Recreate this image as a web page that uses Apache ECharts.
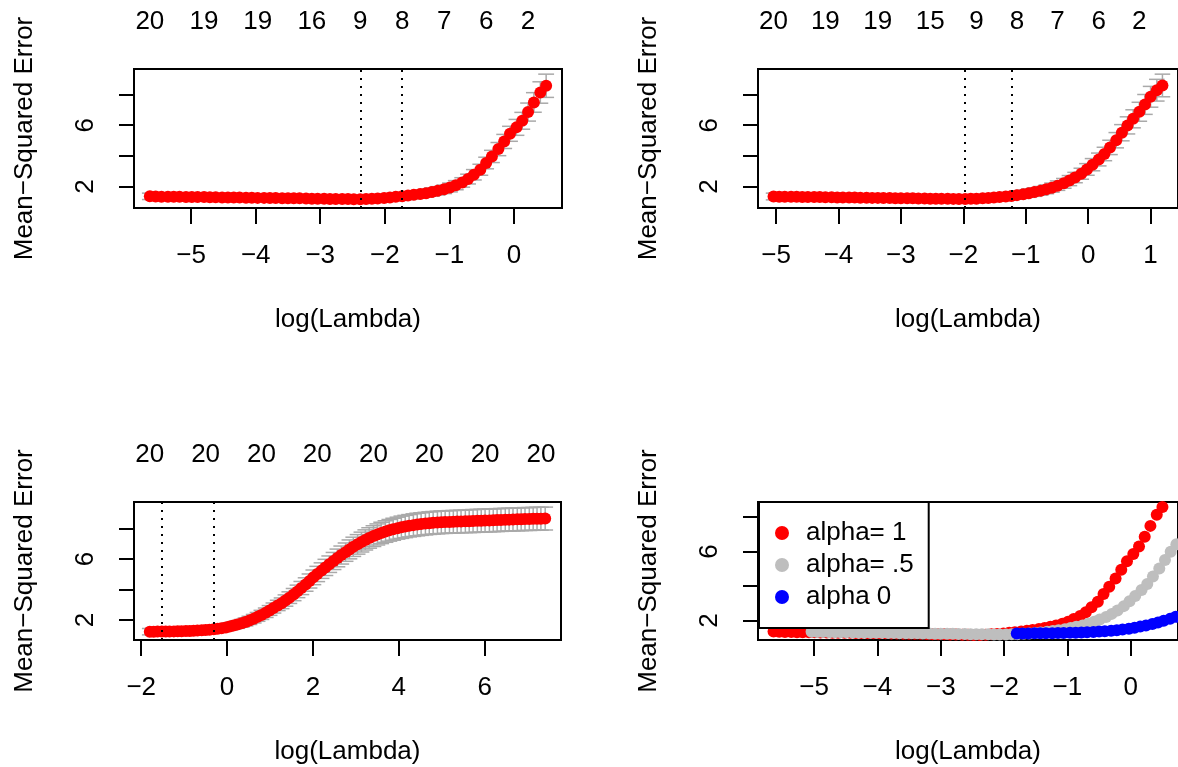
<!DOCTYPE html>
<html><head><meta charset="utf-8">
<script src="https://cdn.jsdelivr.net/npm/echarts@6/dist/echarts.min.js"></script>
<style>html,body{margin:0;padding:0;background:#fff}#c{width:1178px;height:767px}</style>
</head><body><div id="c"></div>
<script>
// ---- data: alpha = 1 (lasso) ----
const x1 = [-5.64,-5.55,-5.46,-5.36,-5.27,-5.18,-5.08,-4.99,-4.90,-4.80,
 -4.71,-4.62,-4.52,-4.43,-4.34,-4.25,-4.15,-4.06,-3.97,-3.87,
 -3.78,-3.69,-3.59,-3.50,-3.41,-3.32,-3.22,-3.13,-3.04,-2.94,
 -2.85,-2.76,-2.66,-2.57,-2.48,-2.38,-2.29,-2.20,-2.11,-2.01,
 -1.92,-1.83,-1.73,-1.64,-1.55,-1.45,-1.36,-1.27,-1.18,-1.08,
 -0.99,-0.90,-0.80,-0.71,-0.62,-0.52,-0.43,-0.34,-0.24,-0.15,
 -0.06,0.04,0.13,0.22,0.31,0.41,0.50];
const cvm1 = [1.35,1.34,1.33,1.33,1.32,1.32,1.31,1.31,1.30,1.30,
 1.29,1.29,1.28,1.28,1.27,1.27,1.26,1.26,1.25,1.25,
 1.24,1.24,1.23,1.23,1.22,1.22,1.21,1.20,1.20,1.19,
 1.18,1.18,1.17,1.17,1.16,1.16,1.17,1.19,1.21,1.24,
 1.28,1.32,1.36,1.40,1.45,1.50,1.56,1.63,1.71,1.81,
 1.93,2.08,2.26,2.48,2.76,3.09,3.53,3.96,4.44,4.94,
 5.44,5.86,6.29,6.86,7.49,8.14,8.58];
const cvsd1 = [0.21,0.21,0.21,0.21,0.21,0.21,0.21,0.21,0.21,0.21,
 0.21,0.21,0.21,0.21,0.21,0.21,0.21,0.21,0.21,0.21,
 0.22,0.22,0.22,0.22,0.22,0.22,0.22,0.22,0.22,0.22,
 0.22,0.22,0.23,0.23,0.235,0.235,0.235,0.235,0.24,0.24,
 0.245,0.25,0.25,0.255,0.26,0.26,0.265,0.27,0.275,0.28,
 0.29,0.30,0.31,0.32,0.34,0.36,0.38,0.40,0.43,0.46,
 0.49,0.52,0.55,0.59,0.64,0.70,0.76];
const top1X = [-5.64,-4.80,-3.97,-3.13,-2.38,-1.73,-1.08,-0.43,0.22];
const top1Lab = ['20','19','19','16','9','8','7','6','2'];
const vline1 = [-2.38,-1.73];

// ---- data: alpha = 0.5 ----
const x2 = [-5.04,-4.95,-4.86,-4.76,-4.67,-4.58,-4.49,-4.39,-4.30,-4.21,
 -4.11,-4.02,-3.93,-3.83,-3.74,-3.65,-3.55,-3.46,-3.37,-3.28,
 -3.18,-3.09,-3.00,-2.90,-2.81,-2.72,-2.62,-2.53,-2.44,-2.35,
 -2.25,-2.16,-2.07,-1.97,-1.88,-1.79,-1.69,-1.60,-1.51,-1.42,
 -1.32,-1.23,-1.14,-1.04,-0.95,-0.86,-0.76,-0.67,-0.58,-0.49,
 -0.39,-0.30,-0.21,-0.11,-0.02,0.07,0.17,0.26,0.35,0.45,
 0.54,0.63,0.72,0.82,0.91,1.00,1.10,1.19];
const cvm2 = [1.34,1.33,1.33,1.32,1.32,1.31,1.31,1.30,1.30,1.29,
 1.29,1.28,1.28,1.27,1.27,1.26,1.26,1.25,1.25,1.24,
 1.24,1.23,1.23,1.22,1.22,1.21,1.21,1.20,1.20,1.19,
 1.19,1.185,1.18,1.18,1.19,1.20,1.22,1.24,1.27,1.30,
 1.34,1.38,1.43,1.49,1.56,1.63,1.71,1.81,1.92,2.05,
 2.20,2.38,2.58,2.83,3.11,3.42,3.76,4.12,4.55,5.02,
 5.51,5.99,6.42,6.88,7.36,7.86,8.29,8.60];
const cvsd2 = [0.22,0.22,0.22,0.22,0.22,0.22,0.22,0.22,0.22,0.22,
 0.22,0.22,0.22,0.22,0.22,0.22,0.22,0.22,0.22,0.22,
 0.23,0.23,0.23,0.23,0.23,0.23,0.23,0.23,0.23,0.23,
 0.24,0.25,0.255,0.255,0.25,0.25,0.25,0.25,0.25,0.255,
 0.26,0.26,0.265,0.27,0.275,0.28,0.285,0.29,0.30,0.31,
 0.32,0.33,0.34,0.36,0.38,0.40,0.42,0.44,0.47,0.50,
 0.53,0.56,0.59,0.62,0.65,0.68,0.71,0.74];
const top2X = [-5.04,-4.21,-3.37,-2.53,-1.79,-1.14,-0.49,0.17,0.82];
const top2Lab = ['20','19','19','15','9','8','7','6','2'];
const vline2 = [-1.97,-1.23];

// ---- data: alpha = 0 (ridge) ----
const x3 = [-1.80,-1.71,-1.62,-1.52,-1.43,-1.34,-1.24,-1.15,-1.06,-0.96,
 -0.87,-0.78,-0.69,-0.59,-0.50,-0.41,-0.31,-0.22,-0.13,-0.03,
 0.06,0.15,0.24,0.34,0.43,0.52,0.62,0.71,0.80,0.90,
 0.99,1.08,1.18,1.27,1.36,1.45,1.55,1.64,1.73,1.83,
 1.92,2.01,2.10,2.20,2.29,2.38,2.48,2.57,2.66,2.76,
 2.85,2.94,3.04,3.13,3.22,3.31,3.41,3.50,3.59,3.69,
 3.78,3.87,3.97,4.06,4.15,4.24,4.34,4.43,4.52,4.62,
 4.71,4.80,4.90,4.99,5.08,5.18,5.27,5.36,5.45,5.55,
 5.64,5.73,5.83,5.92,6.01,6.11,6.20,6.29,6.38,6.48,
 6.57,6.66,6.76,6.85,6.94,7.04,7.13,7.22,7.31,7.41];
const cvm3 = [1.24,1.24,1.245,1.25,1.25,1.255,1.26,1.265,1.27,1.28,
 1.29,1.30,1.31,1.33,1.35,1.37,1.40,1.43,1.47,1.52,
 1.58,1.64,1.71,1.79,1.88,1.98,2.09,2.21,2.34,2.48,
 2.63,2.79,2.96,3.10,3.28,3.47,3.67,3.88,4.10,4.33,
 4.56,4.80,5.02,5.24,5.45,5.66,5.87,6.07,6.26,6.45,
 6.63,6.80,6.96,7.11,7.25,7.38,7.50,7.61,7.71,7.80,
 7.88,7.95,8.02,8.08,8.13,8.18,8.22,8.26,8.29,8.32,
 8.35,8.37,8.39,8.41,8.42,8.43,8.44,8.45,8.46,8.47,
 8.48,8.49,8.50,8.51,8.52,8.53,8.54,8.55,8.56,8.57,
 8.58,8.59,8.60,8.61,8.62,8.62,8.63,8.64,8.64,8.65];
const cvsd3 = [0.21,0.21,0.21,0.21,0.21,0.21,0.21,0.22,0.22,0.22,
 0.22,0.22,0.22,0.22,0.22,0.22,0.23,0.23,0.23,0.23,
 0.24,0.24,0.25,0.25,0.26,0.27,0.28,0.29,0.30,0.31,
 0.32,0.33,0.34,0.35,0.37,0.38,0.40,0.41,0.43,0.44,
 0.46,0.48,0.50,0.51,0.53,0.54,0.56,0.58,0.59,0.60,
 0.62,0.63,0.64,0.65,0.66,0.67,0.68,0.69,0.70,0.705,
 0.71,0.72,0.72,0.73,0.73,0.73,0.74,0.74,0.74,0.74,
 0.74,0.74,0.74,0.74,0.74,0.74,0.74,0.74,0.74,0.74,
 0.75,0.75,0.75,0.75,0.75,0.75,0.75,0.75,0.75,0.75,
 0.75,0.75,0.75,0.75,0.75,0.75,0.75,0.75,0.75,0.75];
const top3X = [-1.80,-0.50,0.80,2.10,3.41,4.71,6.01,7.31];
const top3Lab = ['20','20','20','20','20','20','20','20'];
const vline3 = [-1.52,-0.31];

// ---- tick labels ----
const xTicks1 = [-5,-4,-3,-2,-1,0];
const xTicks2 = [-5,-4,-3,-2,-1,0,1];
const xTicks3 = [-2,0,2,4,6];
const xTicks4 = [-5,-4,-3,-2,-1,0];
const yTicks = [2,4,6,8];
const yLabels = [2,6];
const legendNames = ['alpha= 1','alpha= .5','alpha 0'];

// ---- build ----
const FONT = '"Liberation Sans", Arial, Helvetica, sans-serif';
const TXT = {fontSize:26, color:'#000', fontFamily:FONT, lineHeight:26};
const minus = v => String(v).replace('-', '\u2212');
function ext(lo, hi){ const d = (hi - lo) * 0.04; return [lo - d, hi + d]; }
function range(a){ return [Math.min.apply(null, a), Math.max.apply(null, a)]; }

const grids = [
  {left:134, top:69, width:428, height:139},
  {left:758, top:69, width:428, height:139},
  {left:134, top:502, width:427, height:138},
  {left:758, top:502, width:428, height:138}
];
const panels = [
  {x:x1, m:cvm1, s:cvsd1, xt:xTicks1, topX:top1X, topLab:top1Lab, vl:vline1},
  {x:x2, m:cvm2, s:cvsd2, xt:xTicks2, topX:top2X, topLab:top2Lab, vl:vline2},
  {x:x3, m:cvm3, s:cvsd3, xt:xTicks3, topX:top3X, topLab:top3Lab, vl:vline3}
];

const xAxes = [], yAxes = [], series = [];
function addAxes(p, xl, yl, xt, topX, topLab){
  xAxes.push({type:'value', gridIndex:p, min:xl[0], max:xl[1], position:'bottom',
    axisLine:{show:false, onZero:false}, splitLine:{show:false},
    axisTick:{show:true, length:16, lineStyle:{color:'#000', width:2}, customValues:xt},
    axisLabel:Object.assign({customValues:xt, formatter:minus, margin:35}, TXT),
    name:'log(Lambda)', nameLocation:'middle', nameGap:99, nameTextStyle:TXT});
  const tl = topX || [];
  xAxes.push({type:'value', gridIndex:p, min:xl[0], max:xl[1], position:'top',
    axisLine:{show:false, onZero:false}, splitLine:{show:false}, axisTick:{show:false},
    axisLabel:Object.assign({show: tl.length > 0, customValues:tl, margin:34,
      formatter:(v)=>{ let k = tl.indexOf(v); if (k < 0) { let best=0; tl.forEach((t,i)=>{ if (Math.abs(t-v) < Math.abs(tl[best]-v)) best=i; }); k=best; } return topLab[k]; }}, TXT)});
  yAxes.push({type:'value', gridIndex:p, min:yl[0], max:yl[1], position:'left',
    axisLine:{show:false, onZero:false}, splitLine:{show:false},
    axisTick:{show:true, length:15, lineStyle:{color:'#000', width:2}, customValues:yTicks},
    axisLabel:Object.assign({customValues:yLabels, rotate:90, margin:35}, TXT),
    name:'Mean\u2212Squared Error', nameLocation:'middle', nameRotate:90, nameGap:96, nameTextStyle:TXT});
}

panels.forEach((P, p) => {
  const xr = range(P.x);
  const xl = ext(xr[0], xr[1]);
  const lo = P.m.map((v,i)=>v - P.s[i]), hi = P.m.map((v,i)=>v + P.s[i]);
  const yl = ext(Math.min.apply(null, lo), Math.max.apply(null, hi));
  addAxes(p, xl, yl, P.xt, P.topX, P.topLab);
  const barw = (xr[1] - xr[0]) * 0.02;
  series.push({type:'custom', name:'err'+p, xAxisIndex:2*p, yAxisIndex:p, z:1,
    data:P.x.map((v,i)=>[v, lo[i], hi[i]]),
    encode:{x:0, y:[1,2]},
    renderItem:function(params, api){
      const x = api.value(0), l = api.value(1), h = api.value(2);
      const a = api.coord([x, h]), b = api.coord([x, l]);
      const l1 = api.coord([x - barw, h]), r1 = api.coord([x + barw, h]);
      const l2 = api.coord([x - barw, l]), r2 = api.coord([x + barw, l]);
      const st = {stroke:'#A9A9A9', lineWidth:1.5};
      return {type:'group', children:[
        {type:'line', shape:{x1:a[0], y1:a[1], x2:b[0], y2:b[1]}, style:st},
        {type:'line', shape:{x1:l1[0], y1:l1[1], x2:r1[0], y2:r1[1]}, style:st},
        {type:'line', shape:{x1:l2[0], y1:l2[1], x2:r2[0], y2:r2[1]}, style:st}
      ]};
    }});
  series.push({type:'scatter', name:'cv'+p, xAxisIndex:2*p, yAxisIndex:p, z:2,
    symbol:'circle', symbolSize:12, itemStyle:{color:'#FF0000', opacity:1},
    data:P.x.map((v,i)=>[v, P.m[i]]),
    markLine:{silent:true, symbol:'none', label:{show:false}, animation:false,
      lineStyle:{color:'#000', width:2, type:[2,6]},
      data:P.vl.map(v=>({xAxis:v}))}});
});

// panel 4: comparison
{
  const xr = range(x1);
  const yr = range(cvm1);
  addAxes(3, ext(xr[0], xr[1]), ext(yr[0], yr[1]), xTicks4, null, null);
  const sets = [[x1, cvm1, '#FF0000'], [x2, cvm2, '#BEBEBE'], [x3, cvm3, '#0000FF']];
  sets.forEach((S, k) => {
    series.push({type:'scatter', name:legendNames[k], xAxisIndex:6, yAxisIndex:3, z:2, clip:true,
      symbol:'circle', symbolSize:12, itemStyle:{color:S[2], opacity:1},
      data:S[0].map((v,i)=>[v, S[1][i]])});
  });
}

const chart = echarts.init(document.getElementById('c'), null, {renderer:'canvas'});
chart.setOption({
  animation:false,
  backgroundColor:'#fff',
  grid:grids.map(g => Object.assign({show:true, borderColor:'#000', borderWidth:2, backgroundColor:'transparent', containLabel:false}, g)),
  xAxis:xAxes, yAxis:yAxes,
  legend:{data:legendNames, orient:'vertical', left:759, top:502, icon:'circle',
    itemWidth:38, itemHeight:14, itemGap:6, padding:[18,15,18,16],
    backgroundColor:'#fff', borderColor:'#000', borderWidth:2, borderRadius:0,
    textStyle:TXT, selectedMode:false},
  series:series
});
</script>
</body></html>
